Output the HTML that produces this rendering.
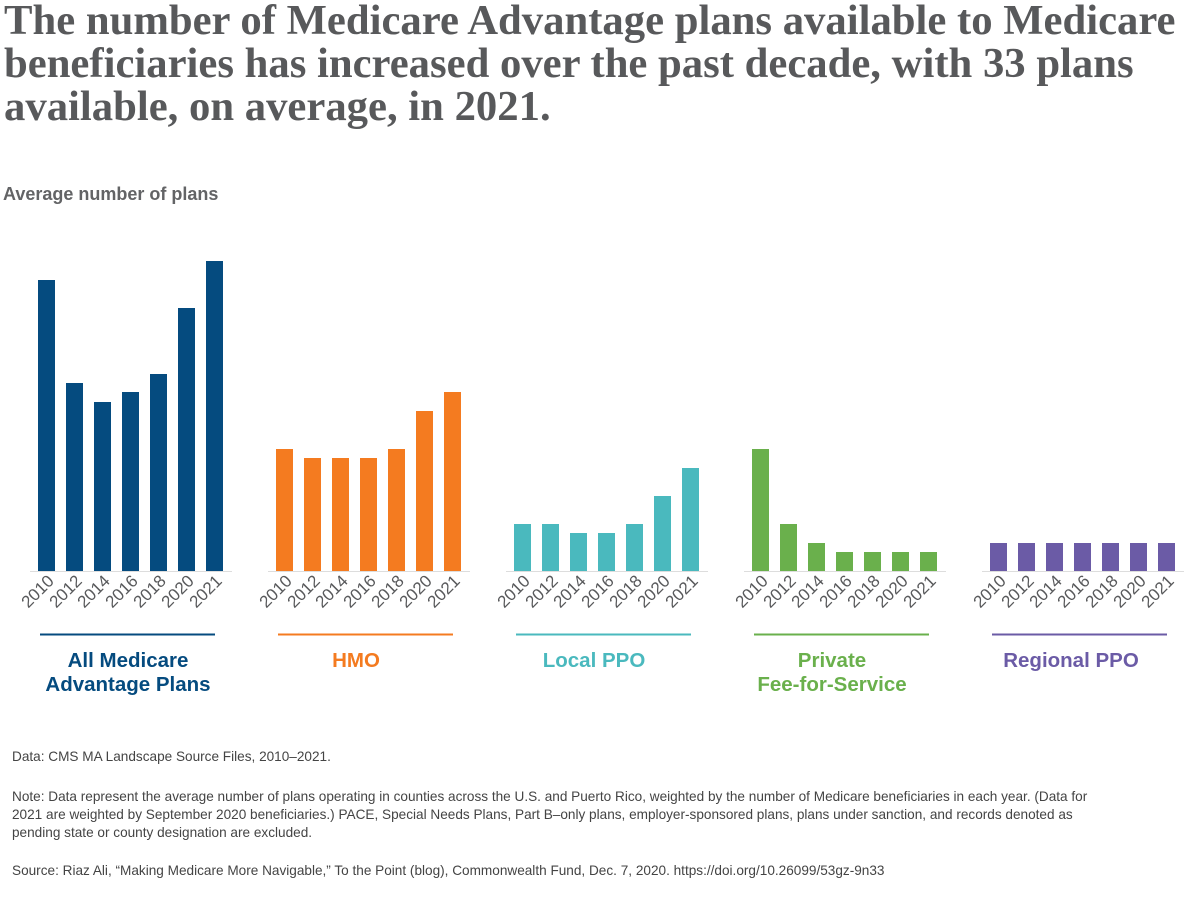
<!DOCTYPE html>
<html><head><meta charset="utf-8"><style>
body{margin:0;width:1200px;height:910px;background:#fff;position:relative;overflow:hidden;font-family:"Liberation Sans",sans-serif}
.t{position:absolute;left:4px;top:-1px;font-family:"Liberation Serif",serif;font-weight:bold;font-size:42.7px;line-height:43px;color:#58595b;width:1195px;white-space:nowrap}
.s{position:absolute;left:3px;top:184px;font-weight:bold;font-size:18px;color:#636466}
.f{position:absolute;left:12px;font-size:13.6px;line-height:18px;color:#444;width:1185px;white-space:nowrap}
.lab{position:absolute;font-weight:bold;font-size:20.5px;line-height:24px;text-align:center;width:220px}
</style></head><body>
<div class="t">The number of Medicare Advantage plans available to Medicare<br>beneficiaries has increased over the past decade, with 33 plans<br>available, on average, in 2021.</div>
<div class="s">Average number of plans</div>
<svg width="1200" height="910" style="position:absolute;left:0;top:0" id="c"></svg>
<div class="lab" style="left:18px;top:649px;color:#054b7f">All Medicare<br>Advantage Plans</div>
<div class="lab" style="left:246px;top:649px;color:#f47b20">HMO</div>
<div class="lab" style="left:484px;top:649px;color:#4ab9be">Local PPO</div>
<div class="lab" style="left:722px;top:649px;color:#6ab04c">Private<br>Fee-for-Service</div>
<div class="lab" style="left:961px;top:649px;color:#6b5ba6">Regional PPO</div>
<div class="f" style="top:748px">Data: CMS MA Landscape Source Files, 2010–2021.</div>
<div class="f" style="top:788px">Note: Data represent the average number of plans operating in counties across the U.S. and Puerto Rico, weighted by the number of Medicare beneficiaries in each year. (Data for<br>2021 are weighted by September 2020 beneficiaries.) PACE, Special Needs Plans, Part B–only plans, employer-sponsored plans, plans under sanction, and records denoted as<br>pending state or county designation are excluded.</div>
<div class="f" style="top:862px">Source: Riaz Ali, “Making Medicare More Navigable,” To the Point (blog), Commonwealth Fund, Dec. 7, 2020. https://doi.org/10.26099/53gz-9n33</div>
<script>
var g=[["#054b7f",[280,383,402,392,374,308,261]],["#f47b20",[449,458,458,458,449,411,392]],["#4ab9be",[524,524,533,533,524,496,468]],["#6ab04c",[449,524,543,552,552,552,552]],["#6b5ba6",[543,543,543,543,543,543,543]]];
var yrs=["2010","2012","2014","2016","2018","2020","2021"],s="";
g.forEach(function(d,i){var x0=38+i*238;
s+='<line x1="'+(x0-8)+'" y1="571.5" x2="'+(x0+194)+'" y2="571.5" stroke="#ddd" stroke-width="1"/>';
s+='<line x1="'+(x0+2)+'" y1="634.5" x2="'+(x0+177)+'" y2="634.5" stroke="'+d[0]+'" stroke-width="2"/>';
d[1].forEach(function(t,j){var x=x0+j*28;
s+='<rect x="'+x+'" y="'+t+'" width="17" height="'+(571-t)+'" fill="'+d[0]+'"/>';
s+='<text x="'+(x+17)+'" y="582" transform="rotate(-45 '+(x+17)+' 582)" text-anchor="end" font-size="17" fill="#58595b" font-family="Liberation Sans">'+yrs[j]+'</text>';});});
document.getElementById("c").innerHTML=s;
</script>
</body></html>
